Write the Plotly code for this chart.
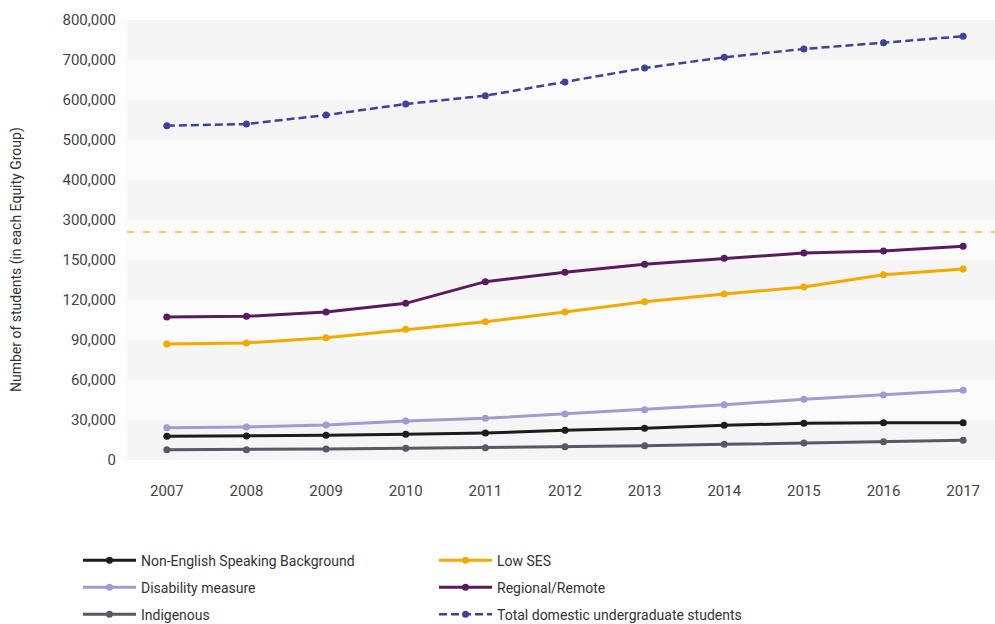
import plotly.graph_objects as go

years = list(range(2007, 2018))

nesb = [17750, 18000, 18500, 19250, 20250, 22250, 23750, 26000, 27500, 28000, 28000]
low_ses = [87000, 87750, 91750, 98000, 103750, 111000, 118750, 124500, 129750, 139000, 143250]
disability = [24250, 24750, 26250, 29250, 31250, 34500, 37750, 41500, 45500, 48750, 52250]
regional = [107250, 107750, 111000, 117500, 133750, 140750, 146750, 151250, 155250, 156750, 160250]
indigenous = [7750, 7750, 8250, 8750, 9250, 10000, 10750, 11750, 12750, 13750, 14750]
total = [535800, 540000, 562400, 590100, 610700, 645000, 680000, 706700, 727600, 743300, 759300]

lower_ticks = [0, 30000, 60000, 90000, 120000, 150000]
upper_ticks = [300000, 400000, 500000, 600000, 700000, 800000]

FONT = "Roboto, Liberation Sans, Arial, sans-serif"
BREAK = 228 / 440  # share of plot height given to the lower (equity group) scale

fig = go.Figure()

def add_series(name, values, color, legend, axis="y", dash=None, width=3):
    fig.add_trace(go.Scatter(
        x=years, y=values, name=name, yaxis=axis, mode="lines+markers",
        line=dict(color=color, width=width, dash=dash),
        marker=dict(color=color, size=7), legend=legend,
    ))

# one legend per row, two entries each
add_series("Non-English Speaking Background", nesb, "#1c1c1e", "legend")
add_series("Low SES", low_ses, "#f0aa00", "legend")
add_series("Disability measure", disability, "#a39ad0", "legend2")
add_series("Regional/Remote", regional, "#5a1b5e", "legend2")
add_series("Indigenous", indigenous, "#5a5866", "legend3")
add_series("Total domestic undergraduate students", total, "#41409a", "legend3",
           axis="y2", dash="8px,4px", width=2.5)

# alternating background bands
shapes = []
for lo in lower_ticks[::2]:
    shapes.append(dict(type="rect", xref="x domain", yref="y", x0=0, x1=1,
                       y0=lo, y1=lo + 30000, fillcolor="#f5f5f5",
                       line=dict(width=0), layer="below"))
for lo in upper_ticks[::2]:
    shapes.append(dict(type="rect", xref="x domain", yref="y2", x0=0, x1=1,
                       y0=lo, y1=lo + 100000, fillcolor="#f5f5f5",
                       line=dict(width=0), layer="below"))
# dashed marker for the scale break
shapes.append(dict(type="line", xref="x domain", yref="paper", x0=0, x1=1,
                   y0=BREAK, y1=BREAK, line=dict(color="#ecb94e", width=1.5, dash="7px,9px")))

axis_font = dict(family=FONT, size=15, color="#444444")

def legend_row(top_px):
    return dict(orientation="h", x=(78 - 127) / 868, y=(460 - top_px) / 440,
                xanchor="left", yanchor="top", itemwidth=53,
                entrywidth=288, entrywidthmode="pixels",
                font=dict(family=FONT, size=14, color="#333333"),
                bgcolor="rgba(0,0,0,0)", traceorder="normal")

fig.update_layout(
    width=995, height=624,
    margin=dict(l=127, r=0, t=20, b=164, autoexpand=False),
    paper_bgcolor="white",
    plot_bgcolor="#fbfbfb",
    font=dict(family=FONT, color="#444444"),
    shapes=shapes,
    showlegend=True,
    xaxis=dict(range=[2006.5, 2017.4], tickvals=years, showgrid=False,
               zeroline=False, showline=False, ticks="", tickfont=axis_font,
               ticklabelstandoff=20),
    yaxis=dict(domain=[0, BREAK], range=[0, 171000], tickvals=lower_ticks,
               tickformat=",", showgrid=False, zeroline=False, showline=False,
               ticks="", tickfont=axis_font, ticklabelstandoff=10),
    yaxis2=dict(domain=[BREAK, 1], range=[270000, 800000], tickvals=upper_ticks,
                tickformat=",", showgrid=False, zeroline=False, showline=False,
                ticks="", tickfont=axis_font, ticklabelstandoff=10, anchor="x"),
    legend=legend_row(544.6),
    legend2=legend_row(571.6),
    legend3=legend_row(598.6),
    annotations=[dict(text="Number of students (in each Equity Group)",
                      xref="paper", yref="paper", x=(16 - 127) / 868, y=(460 - 260) / 440,
                      textangle=-90, showarrow=False, xanchor="center", yanchor="middle",
                      font=dict(family=FONT, size=14, color="#333333"))],
)

fig.write_html("out.html")
